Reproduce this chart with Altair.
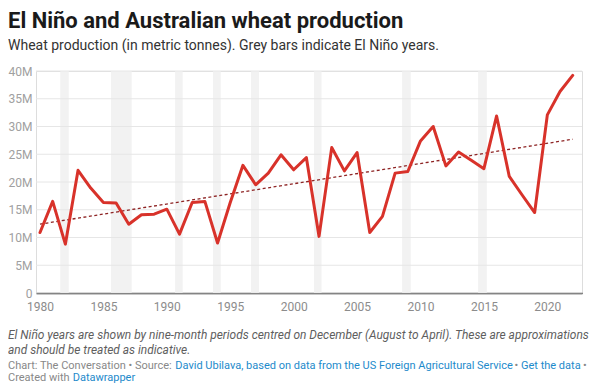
import altair as alt
import pandas as pd

# ---- data ----
years = list(range(1980, 2023))
production = [10.9, 16.5, 8.8, 22.1, 18.9, 16.3, 16.2, 12.4, 14.1, 14.2,
              15.1, 10.6, 16.3, 16.5, 9.0, 16.3, 23.0, 19.5, 21.6, 24.9,
              22.2, 24.4, 10.2, 26.2, 22.0, 25.3, 10.9, 13.8, 21.6, 21.9,
              27.4, 30.0, 22.9, 25.4, 23.9, 22.4, 31.9, 21.0, 17.7, 14.5,
              32.1, 36.3, 39.2]  # million tonnes
production = [v * 1e6 for v in production]

# El Niño periods (fractional years, roughly August to April)
nino_start = [1981.6, 1985.6, 1990.65, 1993.64, 1996.64, 2001.6, 2008.55, 2014.54]
nino_end = [1982.27, 1987.23, 1991.25, 1994.25, 1997.27, 2002.2, 2009.23, 2015.23]

# trend line end points
trend_years = [1980, 2022]
trend_values = [12.4e6, 27.7e6]

grid_values = [0, 5e6, 10e6, 15e6, 20e6, 25e6, 30e6, 35e6, 40e6]
x_ticks = [1980, 1985, 1990, 1995, 2000, 2005, 2010, 2015, 2020]

title_text = "El Niño and Australian wheat production"
subtitle_text = "Wheat production (in metric tonnes). Grey bars indicate El Niño years."
note1 = "El Niño years are shown by nine-month periods centred on December (August to April). These are approximations"
note2 = "and should be treated as indicative."

W, H = 546, 222
FONT = "Roboto"

xscale = alt.Scale(domain=[1979.685, 2022.733], nice=False, zero=False)
yscale = alt.Scale(domain=[0, 40e6], nice=False)

xaxis = alt.Axis(
    values=x_ticks, format="d", title=None, grid=False, ticks=False,
    domain=True, domainColor="#222222", domainWidth=1.5,
    labelColor="#8c8c8c", labelFontSize=12, labelFont=FONT, labelPadding=8)
yaxis = alt.Axis(
    values=grid_values, tickCount=9, title=None, grid=False, ticks=False,
    domain=False, labelOverlap=False,
    labelExpr="datum.value == 0 ? '0' : (datum.value / 1e6) + 'M'",
    labelColor="#a0a0a0", labelFontSize=12, labelFont=FONT, labelPadding=4)

df = pd.DataFrame({"year": years, "value": production})
nino = pd.DataFrame({"start": nino_start, "end": nino_end})
trend = pd.DataFrame({"year": trend_years, "value": trend_values})
grid = pd.DataFrame({"value": grid_values})
one = pd.DataFrame({"a": [0]})

bars = alt.Chart(nino).mark_rect(color="#f2f2f2").encode(
    x=alt.X("start:Q", scale=xscale, axis=xaxis),
    x2="end:Q",
    y=alt.value(0),
    y2=alt.value(H),
)

gridlines = alt.Chart(grid).mark_rule(color="#e6e6e6", strokeWidth=1).encode(
    y=alt.Y("value:Q", scale=yscale, axis=yaxis),
)

trendline = alt.Chart(trend).mark_line(
    color="#8e2424", strokeWidth=1.3, strokeDash=[3, 2.5]
).encode(
    x=alt.X("year:Q", scale=xscale, axis=xaxis),
    y=alt.Y("value:Q", scale=yscale, axis=yaxis),
)

line = alt.Chart(df).mark_line(
    color="#d8322a", strokeWidth=3, strokeJoin="round", strokeCap="round"
).encode(
    x=alt.X("year:Q", scale=xscale, axis=xaxis),
    y=alt.Y("value:Q", scale=yscale, axis=yaxis),
)


def txt(text, x, y, size, color, weight="normal", style="normal"):
    return alt.Chart(one).mark_text(
        text=text, align="left", baseline="alphabetic", font=FONT,
        fontSize=size, color=color, fontWeight=weight, fontStyle=style,
    ).encode(x=alt.value(x), y=alt.value(y))


GREY = "#888888"
BLUE = "#1d8acb"
texts = [
    txt(title_text, -28, -43.5, 22, "#1a1a1a", weight="bold"),
    txt(subtitle_text, -28, -21, 14, "#333333"),
    txt(note1, -28, 268, 11.95, "#5e5e5e", style="italic"),
    txt(note2, -28, 282.5, 11.95, "#5e5e5e", style="italic"),
    txt("Chart: The Conversation • Source:", -28, 298, 11, GREY),
    txt("David Ubilava, based on data from the US Foreign Agricultural Service", 139.3, 298, 11, BLUE),
    txt("•", 478.5, 298, 11, GREY),
    txt("Get the data", 485, 298, 11, BLUE),
    txt("•", 547, 298, 11, GREY),
    txt("Created with", -28, 310, 11, GREY),
    txt("Datawrapper", 36.7, 310, 11, BLUE),
]

chart = alt.layer(bars, gridlines, trendline, line, *texts).properties(
    width=W, height=H,
    autosize=alt.AutoSizeParams(type="none"),
    padding={"left": 28, "top": 63, "right": 10, "bottom": 91},
).configure_view(stroke=None).configure(font=FONT)

chart.save("out.html", embed_options={"renderer": "svg", "actions": False})
